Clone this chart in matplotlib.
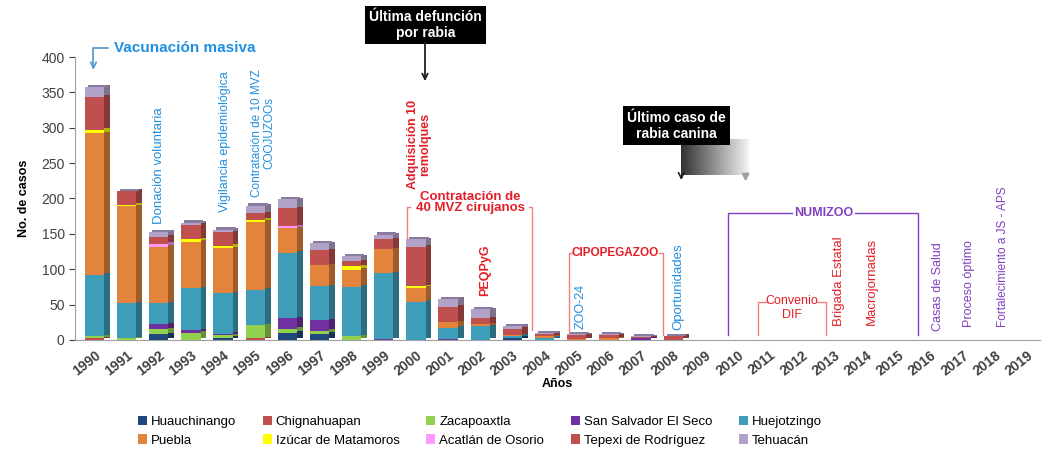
import matplotlib
matplotlib.use("Agg")
import matplotlib.pyplot as plt
import matplotlib.colors as mcolors
import numpy as np

years = list(range(1990, 2020))

# casos por jurisdiccion, 1990-2019
huauchinango = [0, 0, 8, 0, 3, 0, 10, 9, 0, 0, 0, 0, 0, 3, 0, 0, 0, 0, 0] + [0] * 11
chignahuapan = [2, 0, 0, 0, 0, 2, 0, 0, 0, 0, 0, 0, 0, 0, 0, 0, 0, 0, 0] + [0] * 11
zacapoaxtla = [3, 2, 7, 10, 4, 19, 6, 4, 5, 0, 0, 0, 0, 0, 0, 0, 0, 0, 0] + [0] * 11
san_salvador = [0, 0, 7, 4, 2, 0, 15, 15, 0, 1, 0, 1, 0, 0, 0, 0, 0, 2, 0] + [0] * 11
huejotzingo = [87, 50, 30, 59, 57, 50, 92, 48, 70, 93, 54, 16, 19, 3, 3, 0, 0, 0, 0] + [0] * 11
puebla = [200, 137, 80, 66, 64, 96, 35, 30, 24, 34, 20, 8, 3, 1, 2, 1, 2, 0, 0] + [0] * 11
izucar = [5, 2, 0, 3, 3, 3, 0, 0, 5, 0, 2, 0, 0, 0, 0, 0, 0, 0, 0] + [0] * 11
acatlan = [0, 0, 4, 0, 0, 0, 3, 0, 0, 0, 0, 0, 0, 0, 0, 0, 0, 0, 0] + [0] * 11
tepexi = [47, 20, 10, 21, 19, 9, 25, 21, 7, 14, 56, 22, 9, 9, 3, 6, 5, 2, 6] + [0] * 11
tehuacan = [14, 0, 7, 3, 4, 11, 13, 10, 7, 7, 10, 11, 12, 4, 2, 1, 1, 1, 0] + [0] * 11

names = ["Huauchinango", "Chignahuapan", "Zacapoaxtla", "San Salvador El Seco",
         "Huejotzingo", "Puebla", "Izúcar de Matamoros", "Acatlán de Osorio",
         "Tepexi de Rodríguez", "Tehuacán"]
series = [huauchinango, chignahuapan, zacapoaxtla, san_salvador, huejotzingo,
          puebla, izucar, acatlan, tepexi, tehuacan]
colors = ["#1F497D", "#C0504D", "#92D050", "#7030A0", "#3E9DB8",
          "#E3843C", "#FFFF00", "#FF99FF", "#C0504D", "#B3A2C7"]

plt.rcParams['font.family'] = ['Liberation Sans', 'DejaVu Sans']

fig = plt.figure(figsize=(10.43, 4.49), dpi=100)
ax = fig.add_axes([0.072, 0.243, 0.925, 0.63])

x = np.arange(len(years))
w = 0.6
d = 0.18
bottom = np.zeros(len(years))
handles = []
for name, vals, c in zip(names, series, colors):
    vals = np.array(vals, dtype=float)
    h = ax.bar(x, vals, w, bottom=bottom, color=c, label=name, zorder=3)
    dark = np.array(mcolors.to_rgb(c)) * 0.7
    ax.bar(x + w / 2 + d / 2, vals, d, bottom=bottom + 2, color=dark, zorder=2)
    handles.append(h)
    bottom += vals
# tapa superior
ax.bar(x + d / 2, np.where(bottom > 0, 3, 0), w, bottom=bottom, color="#8A7CA0", zorder=2)

ax.set_xlim(-0.6, 29.4)
ax.set_ylim(0, 400)
ax.set_yticks(range(0, 401, 50))
ax.set_xticks(x)
ax.set_xticklabels([str(y) for y in years], rotation=38, ha="right",
                   rotation_mode="anchor", fontsize=10, fontweight="bold", color="#404040")
ax.tick_params(axis="y", labelsize=10, colors="#404040", length=4)
ax.tick_params(axis="x", length=0, pad=6)
for s in ["top", "right"]:
    ax.spines[s].set_visible(False)
ax.spines["left"].set_color("#A0A0A0")
ax.spines["bottom"].set_color("#A0A0A0")
ax.set_ylabel("No. de casos", fontsize=9, fontweight="bold", labelpad=8)
ax.set_xlabel("Años", fontsize=9, fontweight="bold", labelpad=0)

blue = "#1F8FE0"
red = "#E41E26"
purple = "#8040C0"
pink = "#F08080"

# Vacunación masiva
ax.text(0.6, 413, "Vacunación masiva", color=blue, fontsize=11, fontweight="bold",
        va="center", clip_on=False)
ax.annotate("", xy=(-0.03, 378), xytext=(0.5, 413), annotation_clip=False,
            arrowprops=dict(arrowstyle="->", color="#5B9BD5", lw=1.3,
                            connectionstyle="angle,angleA=180,angleB=90,rad=0"))

def vtext(xv, yv, s, color, size=9.5, weight="normal"):
    ax.text(xv, yv, s, rotation=90, color=color, fontsize=size, ha="center",
            va="center", multialignment="center", clip_on=False, fontweight=weight,
            linespacing=0.95)

vtext(2.02, 246, "Donación voluntaria", blue)
vtext(4.07, 280, "Vigilancia epidemiológica", blue, 9)
vtext(5.25, 292, "Contratación de 10 MVZ\nCOOJUZOOs", blue, 8.5)
ax.text(10.3, 445, "Última defunción\npor rabia", color="white", fontsize=10,
        fontweight="bold", ha="center", va="center", clip_on=False,
        bbox=dict(boxstyle="square,pad=0.3", fc="black", ec="none"))
ax.annotate("", xy=(10.28, 362), xytext=(10.28, 424), annotation_clip=False,
            arrowprops=dict(arrowstyle="->", color="#202020", lw=1.3))
vtext(10.1, 276, "Adquisición 10\nremolques", red, 9, "bold")

ax.text(11.7, 194, "Contratación de\n40 MVZ cirujanos", color=red, fontsize=9.5,
        fontweight="bold", ha="center", va="center", linespacing=0.9)
ax.plot([9.72, 9.72, 9.82], [139, 188, 188], color=pink, lw=1)
ax.plot([13.5, 13.6, 13.6], [188, 188, 14], color=pink, lw=1)
vtext(12.14, 99, "PEQPyG", red, 9, "bold")

ax.text(16.2, 123, "CIPOPEGAZOO", color=red, fontsize=8.5, fontweight="bold",
        ha="center", va="center")
ax.plot([14.75, 14.75, 14.85], [7, 123, 123], color=pink, lw=1)
ax.plot([17.55, 17.67, 17.67], [123, 123, 7], color=pink, lw=1)
vtext(15.12, 47, "ZOO-24", blue, 9)
vtext(18.17, 75, "Oportunidades", blue, 9.5)

ax.text(18.1, 303, "Último caso de\nrabia canina", color="white", fontsize=10,
        fontweight="bold", ha="center", va="center",
        bbox=dict(boxstyle="square,pad=0.3", fc="black", ec="none"))
grad = np.linspace(0.2, 0.95, 50).reshape(1, -1)
ax.imshow(grad, cmap="gray", vmin=0, vmax=1, extent=(18.23, 20.34, 233, 283),
          aspect="auto", zorder=1)
ax.annotate("", xy=(18.25, 222), xytext=(18.25, 236),
            arrowprops=dict(arrowstyle="->", color="#202020", lw=1.2))
ax.annotate("", xy=(20.25, 220), xytext=(20.25, 236),
            arrowprops=dict(arrowstyle="-|>", color="#A0A0A0", lw=1.5))

ax.text(22.67, 180, "NUMIZOO", color=purple, fontsize=9, fontweight="bold",
        ha="center", va="center")
ax.plot([19.69, 19.69, 21.7], [7, 180, 180], color=purple, lw=1)
ax.plot([23.65, 25.62, 25.62], [180, 180, 7], color=purple, lw=1)
ax.text(21.7, 45, "Convenio\nDIF", color=red, fontsize=9, ha="center", va="center")
ax.plot([20.65, 20.65, 20.95], [7, 54, 54], color=pink, lw=1)
ax.plot([22.45, 22.76, 22.76], [54, 54, 7], color=pink, lw=1)
vtext(23.14, 83, "Brigada Estatal", red, 9.5)
vtext(24.19, 83, "Macrojornadas", red, 9.5)
vtext(26.24, 75, "Casas de Salud", purple, 9)
vtext(27.2, 79, "Proceso óptimo", purple, 9)
vtext(28.26, 117, "Fortalecimiento a JS - APS", purple, 8.5)

order = [0, 5, 1, 6, 2, 7, 3, 8, 4, 9]
fig.legend([handles[i] for i in order], [names[i] for i in order], ncol=5,
           loc="center", bbox_to_anchor=(0.46, 0.04), frameon=False, fontsize=9.5,
           handlelength=0.7, handleheight=0.7, handletextpad=0.3, columnspacing=2.0,
           labelspacing=0.5)

fig.savefig("out.png", dpi=100)
